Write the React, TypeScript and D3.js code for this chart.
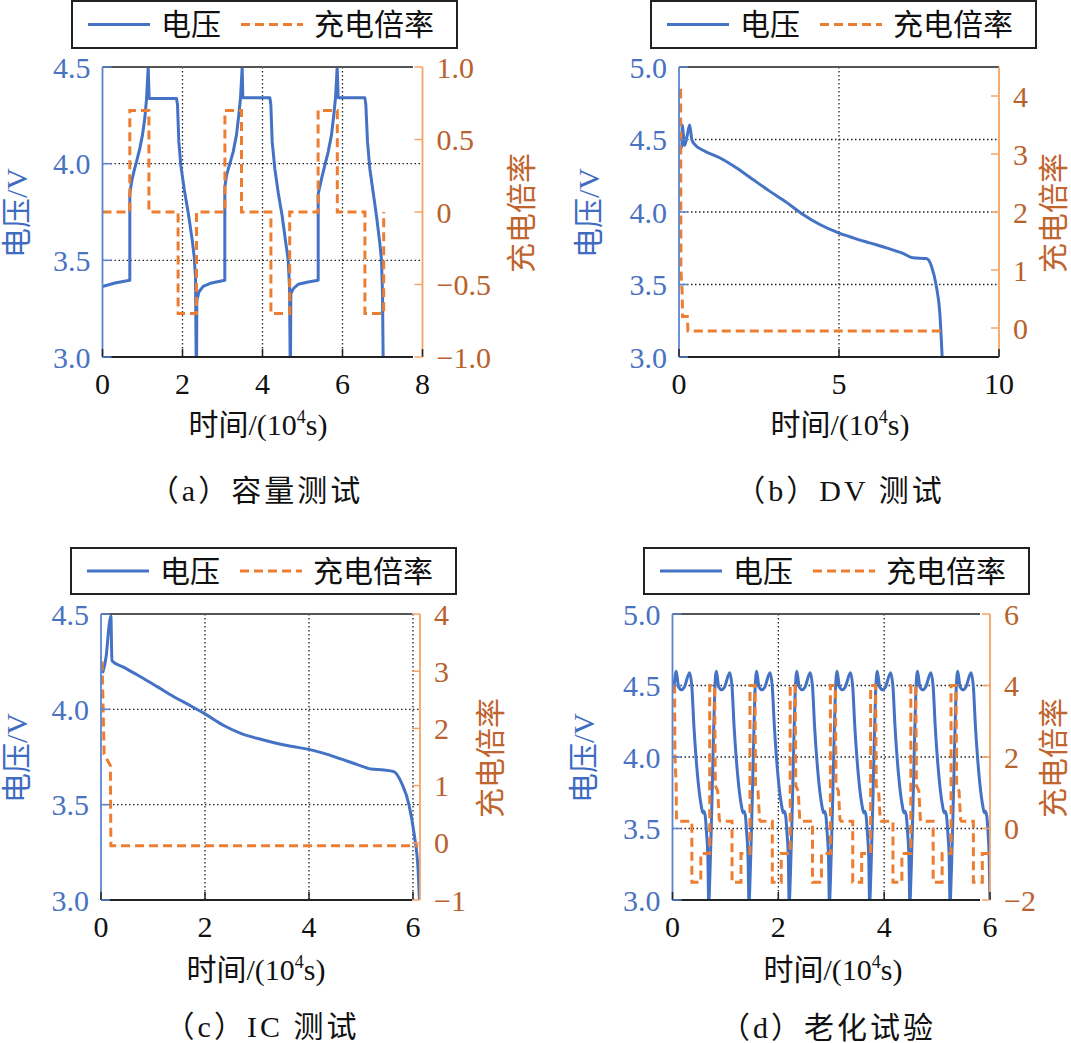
import React from 'react';
import * as d3 from 'd3';

// ---------- data (time in 10^4 s) ----------
// (a) capacity test
const capacityVoltage: [number, number][] = [
  [0, 3.365], [0.31, 3.383], [0.683, 3.397], [0.683, 3.843], [0.725, 3.904], [0.792, 3.965],
  [0.85, 4.009], [0.933, 4.079], [1.0, 4.149], [1.058, 4.236], [1.1, 4.332], [1.142, 4.498],
  [1.167, 4.337], [1.85, 4.337], [1.875, 4.306], [1.908, 4.114], [1.958, 3.991], [2.042, 3.869],
  [2.142, 3.747], [2.242, 3.607], [2.292, 3.519], [2.325, 3.414], [2.342, 2.97], [2.352, 2.97],
  [2.358, 3.292], [2.408, 3.336], [2.517, 3.365], [2.725, 3.383], [3.058, 3.397],
  [3.058, 3.878], [3.1, 3.939], [3.183, 4.0], [3.267, 4.061], [3.35, 4.149], [3.408, 4.253],
  [3.45, 4.341], [3.492, 4.498], [3.508, 4.341], [4.183, 4.341], [4.208, 4.306], [4.242, 4.114],
  [4.308, 3.974], [4.392, 3.851], [4.492, 3.729], [4.583, 3.589], [4.642, 3.502], [4.675, 3.362],
  [4.692, 2.97], [4.7, 2.97], [4.708, 3.327], [4.767, 3.353], [4.892, 3.376], [5.142, 3.388],
  [5.392, 3.397], [5.392, 3.843], [5.475, 3.921], [5.558, 3.991], [5.642, 4.061], [5.725, 4.149],
  [5.783, 4.253], [5.825, 4.341], [5.867, 4.498], [5.892, 4.341], [6.558, 4.341], [6.583, 4.306],
  [6.625, 4.114], [6.683, 3.974], [6.767, 3.851], [6.85, 3.729], [6.933, 3.589], [6.975, 3.502],
  [7.0, 3.327], [7.017, 2.97],
];
const capacityRate: [number, number][] = [
  [0, 0], [0.683, 0], [0.683, 0.7], [1.16, 0.7], [1.16, 0], [1.89, 0], [1.89, -0.7], [2.35, -0.7],
  [2.35, 0], [3.06, 0], [3.06, 0.7], [3.475, 0.7], [3.475, 0], [4.21, 0], [4.21, -0.7], [4.68, -0.7],
  [4.68, 0], [5.39, 0], [5.39, 0.7], [5.87, 0.7], [5.87, 0], [6.56, 0], [6.56, -0.7], [7.03, -0.7],
  [7.03, 0],
];

// (b) DV test
const dvVoltage: [number, number][] = [
  [0.03, 4.44], [0.09, 4.45], [0.1, 4.6], [0.12, 4.57], [0.177, 4.46], [0.25, 4.52], [0.333, 4.6],
  [0.4, 4.5], [0.49, 4.466], [0.75, 4.426], [1.27, 4.374], [1.79, 4.305], [2.31, 4.224],
  [2.83, 4.144], [3.35, 4.068], [3.875, 3.983], [4.4, 3.914], [4.99, 3.856], [5.44, 3.822],
  [5.96, 3.787], [6.48, 3.753], [7.0, 3.714], [7.31, 3.684], [7.73, 3.679], [7.89, 3.626],
  [8.04, 3.489], [8.15, 3.305], [8.23, 2.97],
];
const dvRate: [number, number][] = [
  [0.03, 4.1], [0.05, 4.1], [0.06, 1.0], [0.1, 0.6], [0.11, 0.2], [0.26, 0.2], [0.28, -0.05],
  [8.2, -0.05],
];

// (c) IC test
const icVoltage: [number, number][] = [
  [0.03, 4.19], [0.1, 4.28], [0.16, 4.45], [0.19, 4.49], [0.21, 4.255], [0.44, 4.22], [0.76, 4.171],
  [1.08, 4.119], [1.4, 4.066], [1.72, 4.019], [2.0, 3.976], [2.37, 3.914], [2.69, 3.874],
  [3.0, 3.848], [3.33, 3.825], [3.65, 3.806], [4.0, 3.79], [4.29, 3.769], [4.61, 3.74],
  [4.93, 3.71], [5.19, 3.687], [5.44, 3.682], [5.63, 3.673], [5.79, 3.608], [5.92, 3.503],
  [6.02, 3.35], [6.1, 3.15], [6.13, 2.97],
];
const icRate: [number, number][] = [
  [0.02, 3.17], [0.04, 2.4], [0.06, 1.55], [0.12, 1.45], [0.18, 1.35], [0.19, -0.05], [6.1, -0.05],
];

// (d) aging test
const agingVoltage: [number, number][] = [
  [0.02, 4.45], [0.07, 4.6], [0.115, 4.49], [0.175, 4.47], [0.225, 4.49], [0.322, 4.59], [0.366, 4.49],
  [0.404, 4.22], [0.448, 3.98], [0.492, 3.8], [0.543, 3.66], [0.574, 3.61], [0.593, 3.62], [0.618, 3.59],
  [0.643, 3.47], [0.669, 3.29], [0.684, 2.98],
  [0.709, 3.2], [0.734, 3.52], [0.764, 3.98], [0.797, 4.45], [0.829, 4.6], [0.874, 4.49], [0.934, 4.47],
  [0.984, 4.49], [1.081, 4.59], [1.125, 4.49], [1.163, 4.22], [1.207, 3.98], [1.251, 3.8], [1.302, 3.66],
  [1.333, 3.61], [1.352, 3.62], [1.377, 3.59], [1.402, 3.47], [1.428, 3.29], [1.445, 2.98],
  [1.47, 3.2], [1.495, 3.52], [1.525, 3.98], [1.558, 4.45], [1.59, 4.6], [1.635, 4.49], [1.695, 4.47],
  [1.745, 4.49], [1.842, 4.59], [1.886, 4.49], [1.924, 4.22], [1.968, 3.98], [2.012, 3.8], [2.063, 3.66],
  [2.094, 3.61], [2.113, 3.62], [2.138, 3.59], [2.163, 3.47], [2.189, 3.29], [2.205, 2.98],
  [2.23, 3.2], [2.255, 3.52], [2.285, 3.98], [2.318, 4.45], [2.35, 4.6], [2.395, 4.49], [2.455, 4.47],
  [2.505, 4.49], [2.602, 4.59], [2.646, 4.49], [2.684, 4.22], [2.728, 3.98], [2.772, 3.8], [2.823, 3.66],
  [2.854, 3.61], [2.873, 3.62], [2.898, 3.59], [2.923, 3.47], [2.949, 3.29], [2.965, 2.98],
  [2.99, 3.2], [3.015, 3.52], [3.045, 3.98], [3.078, 4.45], [3.11, 4.6], [3.155, 4.49], [3.215, 4.47],
  [3.265, 4.49], [3.362, 4.59], [3.406, 4.49], [3.444, 4.22], [3.488, 3.98], [3.532, 3.8], [3.583, 3.66],
  [3.614, 3.61], [3.633, 3.62], [3.658, 3.59], [3.683, 3.47], [3.709, 3.29], [3.725, 2.98],
  [3.75, 3.2], [3.775, 3.52], [3.805, 3.98], [3.838, 4.45], [3.87, 4.6], [3.915, 4.49], [3.975, 4.47],
  [4.025, 4.49], [4.122, 4.59], [4.166, 4.49], [4.204, 4.22], [4.248, 3.98], [4.292, 3.8], [4.343, 3.66],
  [4.374, 3.61], [4.393, 3.62], [4.418, 3.59], [4.443, 3.47], [4.469, 3.29], [4.485, 2.98],
  [4.51, 3.2], [4.535, 3.52], [4.565, 3.98], [4.598, 4.45], [4.63, 4.6], [4.675, 4.49], [4.735, 4.47],
  [4.785, 4.49], [4.882, 4.59], [4.926, 4.49], [4.964, 4.22], [5.008, 3.98], [5.052, 3.8], [5.103, 3.66],
  [5.134, 3.61], [5.153, 3.62], [5.178, 3.59], [5.203, 3.47], [5.229, 3.29], [5.245, 2.98],
  [5.27, 3.2], [5.295, 3.52], [5.325, 3.98], [5.358, 4.45], [5.39, 4.6], [5.435, 4.49], [5.495, 4.47],
  [5.545, 4.49], [5.642, 4.59], [5.686, 4.49], [5.724, 4.22], [5.768, 3.98], [5.812, 3.8], [5.863, 3.66],
  [5.894, 3.61], [5.913, 3.62], [5.938, 3.59], [5.963, 3.47], [5.985, 3.29], [6.0, 2.98],
];
const agingRate: [number, number][] = [
  [0.02, 4], [0.04, 4], [0.045, 2.1], [0.07, 1.2], [0.075, 0.3], [0.09, 0.2], [0.366, 0.2],
  [0.366, -1.5], [0.535, -1.5], [0.535, -0.7],
  [0.703, -0.7], [0.703, 4], [0.797, 4], [0.809, 1.2], [0.854, 1.05], [0.884, 0.25], [0.904, 0.2],
  [1.125, 0.2], [1.125, -1.5], [1.294, -1.5], [1.294, -0.7],
  [1.464, -0.7], [1.464, 4], [1.558, 4], [1.57, 1.2], [1.615, 1.05], [1.645, 0.25], [1.665, 0.2],
  [1.886, 0.2], [1.886, -1.5], [2.055, -1.5], [2.055, -0.7],
  [2.224, -0.7], [2.224, 4], [2.318, 4], [2.33, 1.2], [2.375, 1.05], [2.405, 0.25], [2.425, 0.2],
  [2.646, 0.2], [2.646, -1.5], [2.815, -1.5], [2.815, -0.7],
  [2.984, -0.7], [2.984, 4], [3.078, 4], [3.09, 1.2], [3.135, 1.05], [3.165, 0.25], [3.185, 0.2],
  [3.406, 0.2], [3.406, -1.5], [3.575, -1.5], [3.575, -0.7],
  [3.744, -0.7], [3.744, 4], [3.838, 4], [3.85, 1.2], [3.895, 1.05], [3.925, 0.25], [3.945, 0.2],
  [4.166, 0.2], [4.166, -1.5], [4.335, -1.5], [4.335, -0.7],
  [4.504, -0.7], [4.504, 4], [4.598, 4], [4.61, 1.2], [4.655, 1.05], [4.685, 0.25], [4.705, 0.2],
  [4.926, 0.2], [4.926, -1.5], [5.095, -1.5], [5.095, -0.7],
  [5.264, -0.7], [5.264, 4], [5.358, 4], [5.37, 1.2], [5.415, 1.05], [5.445, 0.25], [5.465, 0.2],
  [5.686, 0.2], [5.686, -1.5], [5.855, -1.5], [5.855, -0.7], [6.0, -0.7],
];

// ticks
const xTicksA = [0, 2, 4, 6, 8];
const xTicksB = [0, 5, 10];
const xTicksCD = [0, 2, 4, 6];
const vTicksA = [3.0, 3.5, 4.0, 4.5];
const vTicksB = [3.0, 3.5, 4.0, 4.5, 5.0];
const vTickLabelsA = ['3.0', '3.5', '4.0', '4.5'];
const vTickLabelsB = ['3.0', '3.5', '4.0', '4.5', '5.0'];
const rTicksA = [-1, -0.5, 0, 0.5, 1];
const rTickLabelsA = ['\u22121.0', '\u22120.5', '0', '0.5', '1.0'];
const rTicksB = [0, 1, 2, 3, 4];
const rTicksC = [-1, 0, 1, 2, 3, 4];
const rTicksD = [-2, 0, 2, 4, 6];

const captions = ['（a）容量测试', '（b）DV 测试', '（c）IC 测试', '（d）老化试验'];

const BLUE = '#4472C4';
const ORANGE = '#ED7D31';
const FONT = "'Liberation Serif', 'Times New Roman', 'Noto Sans CJK SC', serif";
const fmtR = (v: number) => (v < 0 ? '\u2212' + Math.abs(v) : String(v));

type Pt = [number, number];

interface PanelCfg {
  id: string;
  x0: number; x1: number; yTop: number; yBot: number; frameEnd: number;
  xMax: number; vDomain: [number, number]; rDomain: [number, number];
  xTicks: number[]; vTicks: number[]; vLabels: string[]; rTicks: number[]; rLabels: string[];
  gridX: number[]; gridV: number[];
  voltage: Pt[]; rate: Pt[]; smooth: boolean;
  legendX: number; legendY: number; legendH: number;
  yLabelX: number; rLabelX: number; labelY: number;
  xLabelX: number; xLabelY: number;
  caption: string; captionX: number; captionY: number;
}

function Panel({ p }: { p: PanelCfg }) {
  const x = d3.scaleLinear().domain([0, p.xMax]).range([p.x0, p.x1]);
  const yv = d3.scaleLinear().domain(p.vDomain).range([p.yBot, p.yTop]);
  const yr = d3.scaleLinear().domain(p.rDomain).range([p.yBot, p.yTop]);
  const vLine = d3.line<Pt>().x(d => x(d[0])).y(d => yv(d[1]))
    .curve(p.smooth ? d3.curveMonotoneX : d3.curveLinear);
  const rLine = d3.line<Pt>().x(d => x(d[0])).y(d => yr(d[1]));
  const lx = p.legendX;
  const ly = p.legendY + p.legendH / 2;

  return (
    <g fontFamily={FONT}>
      <defs>
        <clipPath id={'clip-' + p.id}>
          <rect x={p.x0} y={p.yTop} width={p.x1 - p.x0} height={p.yBot - p.yTop} />
        </clipPath>
      </defs>

      {/* legend */}
      <rect x={lx} y={p.legendY} width={385} height={p.legendH} fill="#fff" stroke="#222" strokeWidth={2} />
      <line x1={lx + 16} x2={lx + 78} y1={ly} y2={ly} stroke={BLUE} strokeWidth={3} />
      <text x={lx + 89} y={ly} dominantBaseline="central" fontSize={30} fill="#111">电压</text>
      <line x1={lx + 169} x2={lx + 231} y1={ly} y2={ly} stroke={ORANGE} strokeWidth={3} strokeDasharray="9,5" />
      <text x={lx + 242} y={ly} dominantBaseline="central" fontSize={30} fill="#111">充电倍率</text>

      {/* grid */}
      {p.gridX.map(t => (
        <line key={'gx' + t} x1={x(t)} x2={x(t)} y1={p.yTop} y2={p.yBot}
          stroke="#222" strokeWidth={1.3} strokeDasharray="1.5,2.5" />
      ))}
      {p.gridV.map(v => (
        <line key={'gv' + v} x1={p.x0} x2={p.x1} y1={yv(v)} y2={yv(v)}
          stroke="#222" strokeWidth={1.3} strokeDasharray="1.5,2.5" />
      ))}

      {/* curves */}
      <g clipPath={`url(#clip-${p.id})`}>
        <path d={vLine(p.voltage) || ''} fill="none" stroke={BLUE} strokeWidth={3} strokeLinejoin="round" />
        <path d={rLine(p.rate) || ''} fill="none" stroke={ORANGE} strokeWidth={3} strokeDasharray="9,5" />
      </g>

      {/* frame */}
      <line x1={p.x0} x2={p.frameEnd} y1={p.yTop} y2={p.yTop} stroke="#555" strokeWidth={2} />
      <line x1={p.x0} x2={p.frameEnd} y1={p.yBot} y2={p.yBot} stroke="#222" strokeWidth={2} />
      <line x1={p.x0} x2={p.x0} y1={p.yTop} y2={p.yBot} stroke="#5b84d0" strokeWidth={1.8} />
      <line x1={p.x1} x2={p.x1} y1={p.yTop} y2={p.yBot} stroke="#f3a468" strokeWidth={1.8} />

      {/* x axis */}
      {p.xTicks.map(t => (
        <g key={'xt' + t}>
          <line x1={x(t)} x2={x(t)} y1={p.yBot} y2={p.yBot - 8} stroke="#222" strokeWidth={1.5} />
          <text x={x(t)} y={p.yBot + 37} textAnchor="middle" fontSize={30} fill="#111">{t}</text>
        </g>
      ))}
      <text x={p.xLabelX} y={p.xLabelY} textAnchor="middle" fontSize={30} fill="#111">
        时间/(10<tspan dy={-12} fontSize={18}>4</tspan><tspan dy={12}>s)</tspan>
      </text>

      {/* left axis */}
      {p.vTicks.map((v, i) => (
        <g key={'vt' + v}>
          <line x1={p.x0} x2={p.x0 + 9} y1={yv(v)} y2={yv(v)} stroke="#5b84d0" strokeWidth={1.5} />
          <text x={p.x0 - 12} y={yv(v)} dy="0.35em" textAnchor="end" fontSize={30} fill="#4a72c2">{p.vLabels[i]}</text>
        </g>
      ))}
      <text transform={`translate(${p.yLabelX},${p.labelY}) rotate(-90)`} textAnchor="middle"
        dominantBaseline="central" fontSize={30} fill="#3f6cc0">电压/V</text>

      {/* right axis */}
      {p.rTicks.map((v, i) => (
        <g key={'rt' + v}>
          <line x1={p.x1} x2={p.x1 - 8} y1={yr(v)} y2={yr(v)} stroke="#f3a468" strokeWidth={1.5} />
          <text x={p.x1 + 14} y={yr(v)} dy="0.35em" textAnchor="start" fontSize={30} fill="#b8622e">{p.rLabels[i]}</text>
        </g>
      ))}
      <text transform={`translate(${p.rLabelX},${p.labelY}) rotate(-90)`} textAnchor="middle"
        dominantBaseline="central" fontSize={30} fill="#c0652e">充电倍率</text>

      {/* caption */}
      <text x={p.captionX} y={p.captionY} textAnchor="middle" fontSize={30} letterSpacing={3} fill="#111">{p.caption}</text>
    </g>
  );
}

const panels: PanelCfg[] = [
  {
    id: 'a', x0: 102.5, x1: 422.5, yTop: 67, yBot: 357, frameEnd: 413,
    xMax: 8, vDomain: [3, 4.5], rDomain: [-1, 1],
    xTicks: xTicksA, vTicks: vTicksA, vLabels: vTickLabelsA, rTicks: rTicksA, rLabels: rTickLabelsA,
    gridX: [2, 4, 6], gridV: [3.5, 4.0],
    voltage: capacityVoltage, rate: capacityRate, smooth: false,
    legendX: 72, legendY: 1, legendH: 47,
    yLabelX: 16, rLabelX: 521, labelY: 213,
    xLabelX: 258, xLabelY: 435,
    caption: captions[0], captionX: 256, captionY: 501,
  },
  {
    id: 'b', x0: 679, x1: 999, yTop: 67, yBot: 357, frameEnd: 999,
    xMax: 10, vDomain: [3, 5], rDomain: [-0.5, 4.5],
    xTicks: xTicksB, vTicks: vTicksB, vLabels: vTickLabelsB, rTicks: rTicksB, rLabels: rTicksB.map(fmtR),
    gridX: [5], gridV: [3.5, 4.0, 4.5],
    voltage: dvVoltage, rate: dvRate, smooth: true,
    legendX: 651, legendY: 1, legendH: 47,
    yLabelX: 588, rLabelX: 1053, labelY: 213,
    xLabelX: 840, xLabelY: 435,
    caption: captions[1], captionX: 840, captionY: 501,
  },
  {
    id: 'c', x0: 101, x1: 420, yTop: 614, yBot: 900, frameEnd: 412,
    xMax: 6.135, vDomain: [3, 4.5], rDomain: [-1, 4],
    xTicks: xTicksCD, vTicks: vTicksA, vLabels: vTickLabelsA, rTicks: rTicksC, rLabels: rTicksC.map(fmtR),
    gridX: [2, 4, 6], gridV: [3.5, 4.0],
    voltage: icVoltage, rate: icRate, smooth: true,
    legendX: 71, legendY: 548, legendH: 46,
    yLabelX: 16, rLabelX: 490, labelY: 758,
    xLabelX: 256, xLabelY: 980,
    caption: captions[2], captionX: 262, captionY: 1037,
  },
  {
    id: 'd', x0: 672.5, x1: 990, yTop: 614, yBot: 900, frameEnd: 980,
    xMax: 6, vDomain: [3, 5], rDomain: [-2, 6],
    xTicks: xTicksCD, vTicks: vTicksB, vLabels: vTickLabelsB, rTicks: rTicksD, rLabels: rTicksD.map(fmtR),
    gridX: [2, 4], gridV: [3.5, 4.0, 4.5],
    voltage: agingVoltage, rate: agingRate, smooth: true,
    legendX: 644, legendY: 548, legendH: 46,
    yLabelX: 583, rLabelX: 1053, labelY: 758,
    xLabelX: 833, xLabelY: 980,
    caption: captions[3], captionX: 828, captionY: 1038,
  },
];

export default function App() {
  return (
    <svg width={1071} height={1043} style={{ position: 'absolute', left: 0, top: 0, background: '#fff' }}>
      <rect width={1071} height={1043} fill="#fff" />
      {panels.map(p => <Panel key={p.id} p={p} />)}
    </svg>
  );
}
